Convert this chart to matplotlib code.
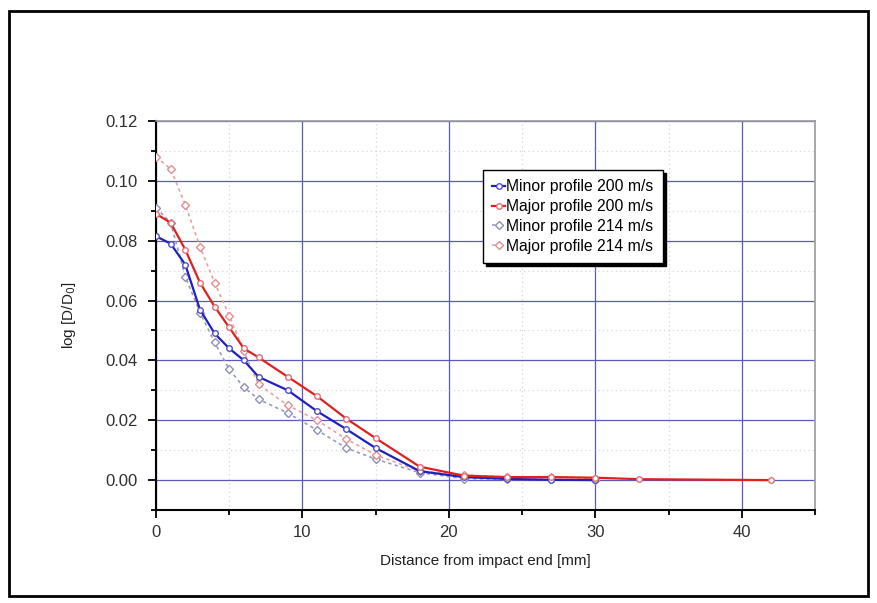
import numpy as np
import matplotlib.pyplot as plt
from matplotlib.patches import Rectangle
from matplotlib.ticker import MultipleLocator

plt.rcParams['font.family'] = ['Liberation Sans', 'DejaVu Sans']

# 200 m/s profiles
x_200_minor = [0, 1, 2, 3, 4, 5, 6, 7, 9, 11, 13, 15, 18, 21, 24, 27, 30]
minor_200 = [0.0815, 0.079, 0.072, 0.057, 0.049, 0.044, 0.040, 0.0345, 0.030, 0.023,
             0.017, 0.0107, 0.003, 0.001, 0.0004, 0.0001, 0.0]
x_200_major = [0, 1, 2, 3, 4, 5, 6, 7, 9, 11, 13, 15, 18, 21, 24, 27, 30, 33, 42]
major_200 = [0.089, 0.086, 0.077, 0.066, 0.058, 0.051, 0.044, 0.041, 0.0345, 0.028,
             0.0205, 0.014, 0.0045, 0.0015, 0.001, 0.001, 0.0008, 0.0003, 0.0]

# 214 m/s profiles
x_214 = [0, 1, 2, 3, 4, 5, 6, 7, 9, 11, 13, 15, 18, 21, 24, 27, 30]
minor_214 = [0.091, 0.086, 0.068, 0.056, 0.046, 0.037, 0.031, 0.027, 0.0224, 0.0167,
             0.0107, 0.007, 0.0025, 0.0005, 0.0003, 0.0002, 0.0]
major_214 = [0.108, 0.104, 0.092, 0.078, 0.066, 0.055, 0.043, 0.032, 0.025, 0.020,
             0.0137, 0.0084, 0.003, 0.0017, 0.001, 0.0012, 0.0005]

fig = plt.figure(figsize=(8.77, 6.03), dpi=100)
ax = fig.add_axes([0.1779, 0.1542, 0.7514, 0.6451])

# outer frame around the whole figure
fig.patches.append(Rectangle((0.010, 0.012), 0.980, 0.970, transform=fig.transFigure,
                             fill=False, edgecolor='black', linewidth=2))

ax.plot(x_214, minor_214, ls=(0, (2, 2)), color='#9a9ac0', lw=1.2, marker='D', ms=4,
        mfc='white', mec='#9090b8', mew=1, label='Minor profile 214 m/s', zorder=3)
ax.plot(x_214, major_214, ls=(0, (2, 2)), color='#e8a0a0', lw=1.2, marker='D', ms=4,
        mfc='white', mec='#e09090', mew=1, label='Major profile 214 m/s', zorder=3)
ax.plot(x_200_minor, minor_200, '-', color='#2020c0', lw=1.6, marker='o', ms=4,
        mfc='white', mec='#5050c0', mew=1, label='Minor profile 200 m/s', zorder=4)
ax.plot(x_200_major, major_200, '-', color='#e02020', lw=1.6, marker='o', ms=4,
        mfc='white', mec='#e07070', mew=1, label='Major profile 200 m/s', zorder=4)

ax.set_xlim(0, 45)
ax.set_ylim(-0.01, 0.12)
ax.xaxis.set_major_locator(MultipleLocator(10))
ax.xaxis.set_minor_locator(MultipleLocator(5))
ax.yaxis.set_major_locator(MultipleLocator(0.02))
ax.yaxis.set_minor_locator(MultipleLocator(0.01))
ax.yaxis.set_major_formatter(plt.FormatStrFormatter('%.2f'))

ax.grid(which='major', color='#5a5ab8', lw=0.9, ls='-')
ax.grid(which='minor', color='#d4d4e0', lw=0.9, ls=(0, (1, 2.5)))
ax.set_axisbelow(True)

for s in ['left', 'bottom']:
    ax.spines[s].set_linewidth(1.5)
for s in ['top', 'right']:
    ax.spines[s].set_color('#999999')
    ax.spines[s].set_linewidth(1.2)

ax.tick_params(which='major', direction='out', length=6, width=1.3, labelsize=12,
               labelcolor='#303030', pad=5)
ax.tick_params(axis='y', which='major', pad=7)
ax.tick_params(which='minor', direction='out', length=3.5, width=1.3)

ax.set_xlabel('Distance from impact end [mm]', fontsize=11, labelpad=10, color='#202020')
ax.set_ylabel('log [D/D$_0$]', fontsize=11, labelpad=20, color='#202020')

h, l = ax.get_legend_handles_labels()
order = [2, 3, 0, 1]
leg = ax.legend([h[i] for i in order], [l[i] for i in order],
                loc='upper left', bbox_to_anchor=(0.496, 0.874), borderaxespad=0,
                fontsize=11.3, fancybox=False, edgecolor='black', framealpha=1,
                shadow={'color': 'black', 'alpha': 1},
                handlelength=0.8, handletextpad=0.1, borderpad=0.6, labelspacing=0.3)
leg.get_frame().set_linewidth(1)

fig.savefig('out.png', dpi=100)
